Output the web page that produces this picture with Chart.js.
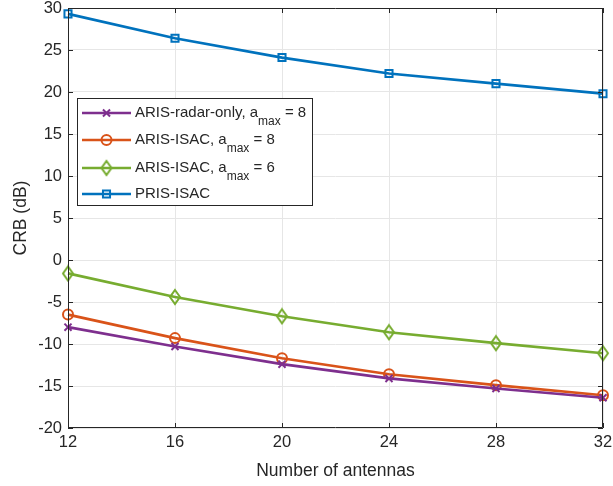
<!DOCTYPE html>
<html>
<head>
<meta charset="utf-8">
<script src="https://cdn.jsdelivr.net/npm/chart.js@4"></script>
<style>
  html, body { margin: 0; padding: 0; background: #fff; }
  #wrap { width: 613px; height: 486px; }
</style>
</head>
<body>
<div id="wrap"><canvas id="crb"></canvas></div>
<script>
// data
const antennas = [12, 16, 20, 24, 28, 32];
const xTicks = [12, 16, 20, 24, 28, 32];
const yTicks = [-20, -15, -10, -5, 0, 5, 10, 15, 20, 25, 30];
const radarOnly8 = [-8.0, -10.3, -12.4, -14.1, -15.3, -16.4];
const isac8 = [-6.5, -9.3, -11.7, -13.6, -14.9, -16.1];
const isac6 = [-1.6, -4.4, -6.7, -8.6, -9.9, -11.1];
const prisIsac = [29.3, 26.4, 24.1, 22.2, 21.0, 19.8];

const FONT = '"Liberation Sans", Arial, Helvetica, sans-serif';
const TXT = '#262626';

// matlab-like narrow diamond marker
function diamond(color) {
  const c = document.createElement('canvas');
  c.width = 14; c.height = 18;
  const g = c.getContext('2d');
  g.strokeStyle = color;
  g.lineWidth = 2;
  g.beginPath();
  g.moveTo(7, 2); g.lineTo(12, 9); g.lineTo(7, 16); g.lineTo(2, 9);
  g.closePath();
  g.stroke();
  return c;
}

function series(label, data, color, style, radius) {
  return {
    label: label,
    data: data.map((v, i) => ({ x: antennas[i], y: v })),
    borderColor: color,
    backgroundColor: color,
    borderWidth: 2.7,
    pointStyle: style,
    pointRadius: radius,
    pointHoverRadius: radius,
    pointBorderWidth: 2,
    pointBorderColor: color,
    pointBackgroundColor: 'rgba(0,0,0,0)',
    tension: 0,
    clip: false
  };
}

// matlab style frame with inner ticks
const boxPlugin = {
  id: 'box',
  afterDatasetsDraw(chart) {
    const { ctx, chartArea: a, scales } = chart;
    ctx.save();
    ctx.strokeStyle = TXT;
    ctx.lineWidth = 1;
    ctx.beginPath();
    ctx.rect(a.left + 0.5, a.top + 0.5, a.right - a.left - 1, a.bottom - a.top - 1);
    ctx.stroke();
    const t = 5;
    ctx.beginPath();
    xTicks.forEach(v => {
      const x = Math.round(scales.x.getPixelForValue(v)) + 0.5;
      ctx.moveTo(x, a.bottom); ctx.lineTo(x, a.bottom - t);
      ctx.moveTo(x, a.top); ctx.lineTo(x, a.top + t);
    });
    yTicks.forEach(v => {
      const y = Math.round(scales.y.getPixelForValue(v)) + 0.5;
      ctx.moveTo(a.left, y); ctx.lineTo(a.left + t, y);
      ctx.moveTo(a.right, y); ctx.lineTo(a.right - t, y);
    });
    ctx.stroke();
    ctx.restore();
  }
};

// legend with subscripts, drawn inside the axes
const legendPlugin = {
  id: 'subLegend',
  afterDraw(chart) {
    const ctx = chart.ctx;
    const bx = 77, by = 98, bw = 235, bh = 107;
    const rows = [113, 140, 168, 194];
    ctx.save();
    ctx.fillStyle = '#fff';
    ctx.fillRect(bx, by, bw, bh);
    ctx.strokeStyle = TXT;
    ctx.lineWidth = 1;
    ctx.strokeRect(bx + 0.5, by + 0.5, bw, bh);
    chart.data.datasets.forEach((ds, i) => {
      const y = rows[i];
      ctx.strokeStyle = ds.borderColor;
      ctx.lineWidth = ds.borderWidth;
      ctx.beginPath();
      ctx.moveTo(82, y); ctx.lineTo(131, y);
      ctx.stroke();
      ctx.lineWidth = ds.pointBorderWidth;
      ctx.fillStyle = 'rgba(0,0,0,0)';
      Chart.helpers.drawPoint(ctx, { pointStyle: ds.pointStyle, radius: ds.pointRadius, borderWidth: ds.pointBorderWidth, rotation: 0 }, 106.5, y);
      // text: "a_{max}" -> subscript
      const parts = ds.label.split(/_\{([^}]*)\}/);
      let x = 135;
      ctx.fillStyle = TXT;
      ctx.textBaseline = 'middle';
      ctx.textAlign = 'left';
      parts.forEach((p, k) => {
        if (k % 2 === 1) {
          ctx.font = '12px ' + FONT;
          ctx.fillText(p, x, y + 9);
        } else {
          ctx.font = '15px ' + FONT;
          ctx.fillText(p, x, y);
        }
        x += ctx.measureText(p).width;
      });
    });
    ctx.restore();
  }
};

new Chart(document.getElementById('crb'), {
  type: 'line',
  data: {
    datasets: [
      series('ARIS-radar-only, a_{max} = 8', radarOnly8, '#7E2F8E', 'crossRot', 5),
      series('ARIS-ISAC, a_{max} = 8', isac8, '#D95319', 'circle', 5),
      series('ARIS-ISAC, a_{max} = 6', isac6, '#77AC30', diamond('#77AC30'), 6),
      series('PRIS-ISAC', prisIsac, '#0072BD', 'rect', 5)
    ]
  },
  options: {
    responsive: true,
    maintainAspectRatio: false,
    animation: false,
    events: [],
    layout: { padding: { top: 5, right: 10, left: 0, bottom: 0 } },
    plugins: { legend: { display: false }, tooltip: { enabled: false } },
    scales: {
      x: {
        type: 'linear',
        min: 12, max: 32,
        afterBuildTicks(s) { s.ticks = xTicks.map(v => ({ value: v })); },
        afterFit(s) { s.height = 58; s.paddingLeft = 0; s.paddingRight = 0; },
        grid: { color: '#e6e6e6', lineWidth: 1, drawTicks: false },
        border: { display: false },
        ticks: { color: TXT, font: { family: FONT, size: 16.5 }, padding: 5, maxRotation: 0 },
        title: { display: true, text: 'Number of antennas', color: TXT, font: { family: FONT, size: 17.5 }, padding: { top: 0, bottom: 4 } }
      },
      y: {
        type: 'linear',
        min: -20, max: 30,
        afterBuildTicks(s) { s.ticks = yTicks.map(v => ({ value: v })); },
        afterFit(s) { s.width = 68; s.paddingTop = 0; s.paddingBottom = 0; },
        grid: { color: '#e6e6e6', lineWidth: 1, drawTicks: false },
        border: { display: false },
        ticks: { color: TXT, font: { family: FONT, size: 16.5 }, padding: 6 },
        title: { display: true, text: 'CRB (dB)', color: TXT, font: { family: FONT, size: 17.5 }, padding: { top: 11, bottom: 0 } }
      }
    }
  },
  plugins: [boxPlugin, legendPlugin]
});
</script>
</body>
</html>
